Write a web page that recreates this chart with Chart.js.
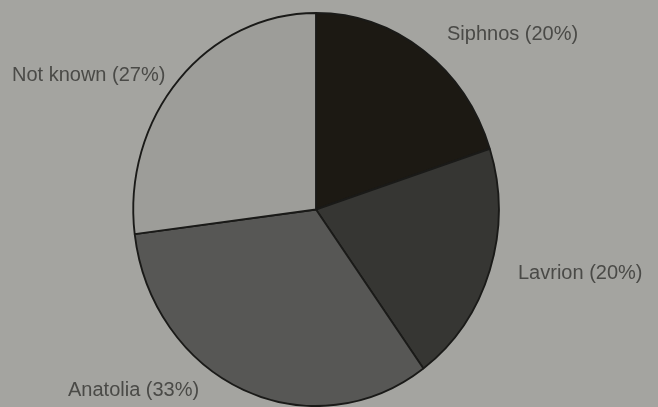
<!DOCTYPE html>
<html>
<head>
<meta charset="utf-8">
<script src="https://cdn.jsdelivr.net/npm/chart.js@4"></script>
<style>
  html, body { margin: 0; padding: 0; background: #a4a4a0; }
  #wrap { width: 658px; height: 407px; position: relative; }
</style>
</head>
<body>
<div id="wrap"><canvas id="pieChart"></canvas></div>
<script>
const sources = ['Siphnos', 'Lavrion', 'Anatolia', 'Not known'];
const shares = [20, 20, 33, 27];
const sliceColors = ['#1c1913', '#363633', '#575755', '#9d9d99'];

// label placement relative to pie centre (px)
const labelOffsets = [[131, -175], [202, 64], [-248, 181], [-304, -134]];

// squash the pie a little horizontally like the photographed original
const squash = {
    id: 'squash',
    beforeDatasetsDraw(chart) {
        const arc = chart.getDatasetMeta(0).data[0];
        const ctx = chart.ctx;
        ctx.save();
        ctx.translate(arc.x, arc.y);
        ctx.scale(0.93, 1);
        ctx.translate(-arc.x, -arc.y);
    },
    afterDatasetsDraw(chart) {
        chart.ctx.restore();
    }
};

const sliceLabels = {
    id: 'sliceLabels',
    afterDraw(chart) {
        const arc = chart.getDatasetMeta(0).data[0];
        const ctx = chart.ctx;
        ctx.save();
        ctx.font = '20px "Liberation Sans", Arial, sans-serif';
        ctx.fillStyle = '#4a4a47';
        ctx.textBaseline = 'middle';
        sources.forEach((name, i) => {
            const [dx, dy] = labelOffsets[i];
            ctx.fillText(name + ' (' + shares[i] + '%)', arc.x + dx, arc.y + dy);
        });
        ctx.restore();
    }
};

const ctx = document.getElementById('pieChart').getContext('2d');

new Chart(ctx, {
    type: 'pie',
    data: {
        labels: sources,
        datasets: [{
            data: shares,
            backgroundColor: sliceColors,
            borderColor: '#1a1a18',
            borderWidth: 2
        }]
    },
    options: {
        responsive: true,
        maintainAspectRatio: false,
        animation: false,
        layout: { padding: { top: 12, bottom: 0, left: 0, right: 26 } },
        plugins: {
            legend: { display: false },
            tooltip: { enabled: false }
        }
    },
    plugins: [squash, sliceLabels]
});
</script>
</body>
</html>
